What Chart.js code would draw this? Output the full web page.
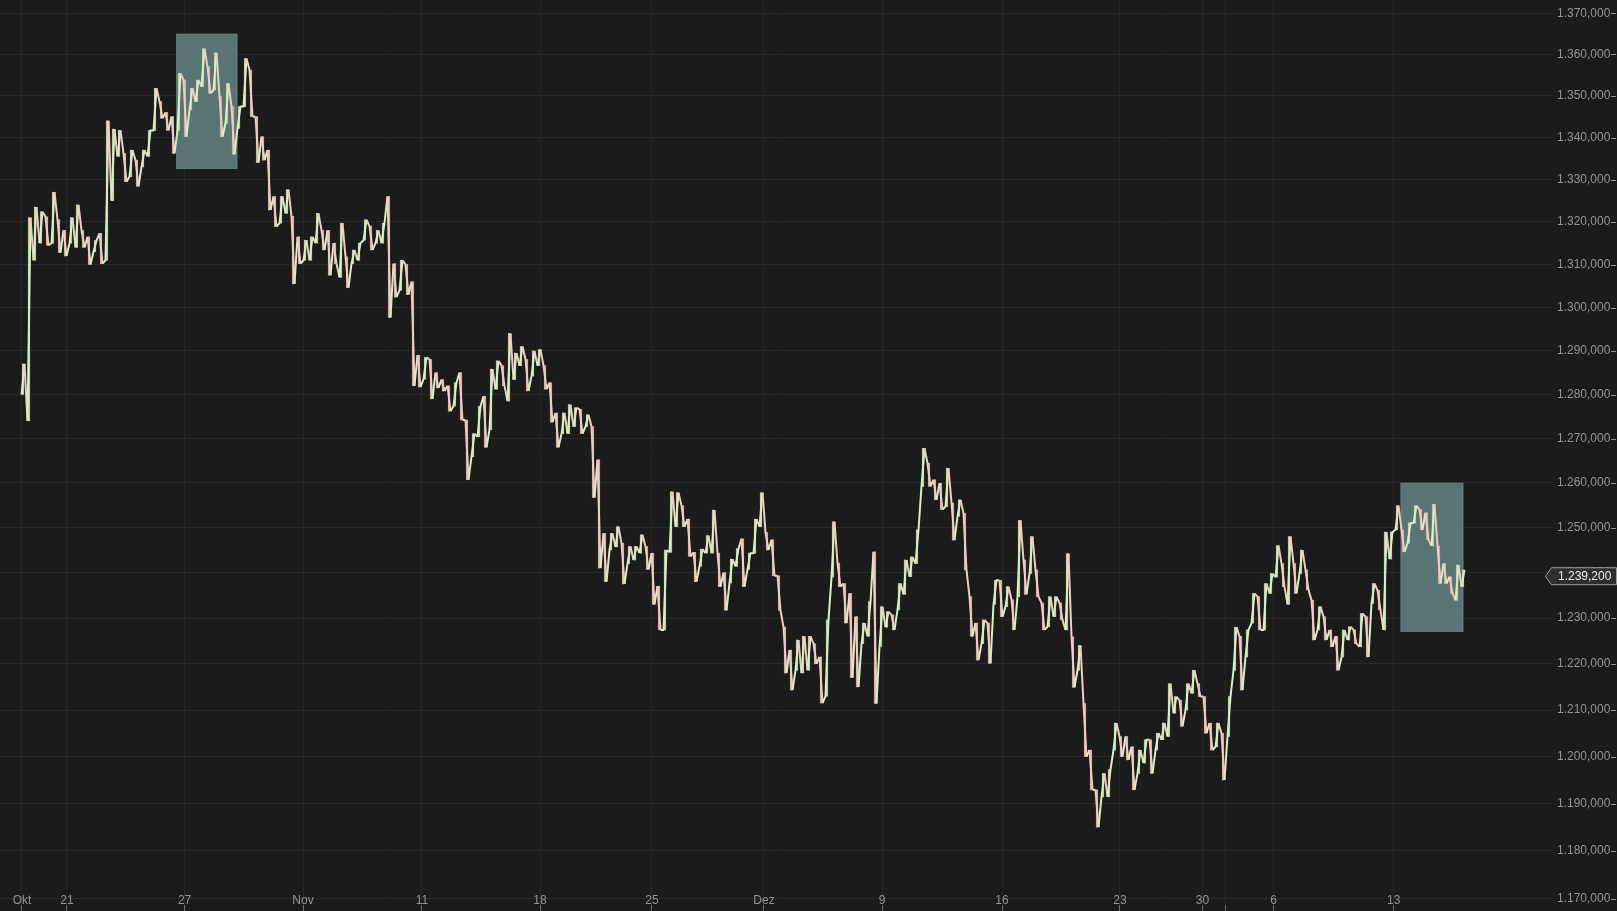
<!DOCTYPE html>
<html><head><meta charset="utf-8">
<script src="https://cdn.jsdelivr.net/npm/chart.js@4.4.1/dist/chart.umd.min.js"></script>
<style>html,body{margin:0;padding:0;background:#1c1b1b;overflow:hidden}#wrap{width:1617px;height:911px;position:relative}</style>
</head><body><div id="wrap"><canvas id="c"></canvas></div>
<script>
// Price ranges per time slot
const highs = [1287,1321,1323.5,1322.4,1321.2,1327,1320.5,1318,1321,1324,1318,1316.5,1315.6,1317.3,1344,1342,1341.7,1336.2,1337,1334.6,
1337,1341.7,1351.8,1348.6,1346,1345,1355.4,1353.8,1351.8,1353.8,1361.4,1357,1360.4,1349.8,1353,1347.4,1347.4,1359,1356.2,1345,
1340.2,1337,1326,1326,1327.6,1321.3,1316.5,1315.7,1316.5,1322,1318,1318,1315,1319.7,1311.8,1313.4,1315,1320.5,1319,1318,
1319.7,1326,1310.2,1311,1310,1306,1289,1288.5,1288,1285,1283.4,1282,1282.7,1285,1274.2,1271.1,1277.3,1279.6,1285.8,1287.7,
1286.6,1294,1289.5,1291,1288,1290,1290.3,1286.6,1282.7,1275.8,1275.8,1277.7,1277,1276.6,1275.4,1272.7,1265.2,1248.7,1248.7,1250.2,
1246.5,1245.8,1245.8,1248.4,1245.8,1244.3,1237,1245,1258,1257.8,1254.9,1251.9,1244.5,1245.2,1248.2,1253.9,1244.3,1240,1243,1245.3,
1247.5,1244.3,1251.9,1257.8,1248.9,1247.3,1239.3,1228,1223,1225.2,1226,1226,1224.4,1221.5,1229.6,1251.3,1242.1,1237.6,1235.4,1230.3,
1228.9,1233.6,1244.6,1232.5,1231.4,1230.7,1237.6,1242.8,1243.5,1249.5,1267.8,1264.4,1260.7,1259.9,1263.3,1255.5,1256.2,1253.2,1234.7,1228.9,
1229.6,1228.9,1238.3,1238.3,1236.9,1234,1251.6,1242.8,1248,1240.6,1233.3,1234.7,1234.7,1233.3,1244.2,1225.9,1224,1211.4,1201.4,1192.9,
1196.4,1197.2,1207.2,1204.3,1204.3,1202.1,1201.4,1203.6,1203.6,1205,1207.2,1215.7,1212.9,1212.1,1215.7,1218.6,1215.7,1212.9,1207.2,1207.2,
1205,1212.9,1228,1226,1227.4,1235.4,1234.7,1237.6,1239.8,1246,1242,1248,1242,1245,1240.6,1233.9,1232.5,1230.3,1227.4,1226,
1227.4,1228.1,1227.4,1231,1230.3,1237.6,1236.1,1249,1249,1254.9,1249.5,1251,1254.9,1254,1253.3,1255.2,1245.9,1242,1239.1,1241.7,
1240.6];
const lows = [1280,1274,1311,1315,1314.5,1315,1312.8,1312,1315,1314,1314,1310,1313,1310.2,1311,1325,1335.5,1329.5,1330.7,1328.4,
1333,1335.5,1341.7,1344.6,1341.7,1336.2,1341.7,1340.2,1346.6,1348.6,1352.2,1350.6,1351.4,1340.2,1343.4,1336,1342.2,1347.4,1345,1334,
1334.6,1322.8,1318.9,1319.7,1322,1305.5,1310.2,1311,1311,1315,1313.4,1307.5,1310.2,1307,1304.6,1310.2,1311,1315.7,1313.4,1315,
1315,1297.7,1302.4,1304,1303,1282,1281.7,1283.5,1279,1281.5,1280.8,1276.2,1277.4,1274.2,1260.7,1265.9,1270.4,1268,1272,1281.2,
1282,1278.5,1283.4,1286.6,1280.8,1284.2,1286.6,1281.2,1273.7,1268,1271.1,1271.1,1272.7,1271.1,1272.7,1256.7,1241,1238,1245,1245.7,
1237.5,1242,1242.8,1244.3,1240.7,1233,1227.4,1227.4,1244.5,1250.2,1250.2,1243.6,1238,1241.4,1244.3,1244.3,1236.9,1231.7,1237.7,1241.4,
1236.9,1240.7,1244.3,1250.2,1245,1239.3,1231.7,1218,1214.3,1218.6,1218,1218.6,1220,1211.5,1213,1239,1236.9,1228.9,1217,1215,
1224.4,1226,1211.4,1223.8,1228,1227.4,1231.8,1235.2,1239.1,1242,1259.2,1259.2,1256.2,1254,1254.7,1247.2,1252.5,1240.6,1226,1220.8,
1224.4,1220.1,1233,1230.3,1232.5,1227.4,1234.7,1235.2,1239.8,1234.7,1227.4,1228.1,1230.3,1229.6,1227.4,1214.9,1218.6,1200,1192.9,1185,
1191.4,1191.4,1201.4,1200,1199.3,1192.9,1196.4,1198.6,1196.4,1201.4,1203.6,1204.3,1209.3,1206.5,1210,1213.6,1212.9,1205,1201.4,1202.1,
1195,1204.3,1218.6,1214.3,1221.5,1228.9,1227.4,1227.4,1235.4,1239,1236.9,1233,1235.4,1239.8,1236.2,1225.2,1227.4,1225.2,1223.7,1218.6,
1221.5,1225.2,1224.4,1223.7,1221.5,1233.2,1231.8,1227.4,1243,1249.5,1244.6,1246.5,1251,1249.5,1247.3,1245.9,1237.6,1237.6,1235.4,1233.9,
1236.9];
const lastPrice = 1239.2;
const tickPos = [-0.17,7.33,26.93,46.67,66.5,86.17,104.83,123.5,143.17,163.17,182.83,196.57,200.37,208.43,228.45];
const tickLabels = ['Okt','21','27','Nov','11','18','25','Dez','9','16','23','30','','6','13'];
const yTicks = [1170,1180,1190,1200,1210,1220,1230,1240,1250,1260,1270,1280,1290,1300,1310,1320,1330,1340,1350,1360,1370];
const boxStart = [25.55, 229.6];
const boxEnd = [35.72, 240.05];
const boxHigh = [1365, 1260];
const boxLow = [1332.5, 1227];

const UP = '#d6efc3', DOWN = '#f1cbc4';
const mids = highs.map((h,i)=>(h+lows[i])/2);
const isUp = mids.map((m,i)=> i===0 ? true : m >= mids[i-1]);
const barData = highs.map((h,i)=>({x:i, y:[lows[i], h]}));
const lineData = [];
highs.forEach((h,i)=>{
  if (isUp[i]) { lineData.push({x:i-0.25, y:lows[i]}); lineData.push({x:i+0.25, y:h}); }
  else { lineData.push({x:i-0.25, y:h}); lineData.push({x:i+0.25, y:lows[i]}); }
});

// German number format: 1.370,000
const fmt = v => {
  const s = (Math.round(v*1000)/1000).toFixed(3);
  const [ip, dp] = s.split('.');
  return ip.replace(/\B(?=(\d{3})+(?!\d))/g, '.') + ',' + dp;
};
const FONT = {family:"'Liberation Sans', Arial, sans-serif", size:12};
const TXT = '#949494';

const deco = {
  id:'deco',
  beforeDatasetsDraw(chart){
    const {ctx, scales:{x,y}} = chart;
    ctx.save();
    for (let k=0;k<boxStart.length;k++){
      const x0=x.getPixelForValue(boxStart[k]), x1=x.getPixelForValue(boxEnd[k]);
      const y0=y.getPixelForValue(boxHigh[k]), y1=y.getPixelForValue(boxLow[k]);
      ctx.fillStyle='#587574';
      ctx.fillRect(x0,y0,x1-x0,y1-y0);
      ctx.strokeStyle='#627f7e'; ctx.lineWidth=1;
      ctx.strokeRect(x0+0.5,y0+0.5,x1-x0-1,y1-y0-1);
    }
    ctx.restore();
  },
  afterDraw(chart){
    const {ctx, scales:{y}, chartArea} = chart;
    ctx.save();
    ctx.strokeStyle=TXT; ctx.lineWidth=1;
    y.ticks.forEach(t=>{
      const py=Math.round(y.getPixelForValue(t.value))+0.5;
      ctx.beginPath(); ctx.moveTo(1611,py); ctx.lineTo(1616,py); ctx.stroke();
    });
    const py = y.getPixelForValue(lastPrice);
    const left = chartArea.right-8;
    ctx.beginPath();
    ctx.moveTo(left+0.5, py);
    ctx.lineTo(left+6.5, py-8.5);
    ctx.lineTo(1616.5, py-8.5);
    ctx.lineTo(1616.5, py+8.5);
    ctx.lineTo(left+6.5, py+8.5);
    ctx.closePath();
    ctx.fillStyle='#2e2e2e'; ctx.fill();
    ctx.strokeStyle='#a0a0a0'; ctx.stroke();
    ctx.fillStyle='#eeeeee';
    ctx.font="12px 'Liberation Sans', Arial, sans-serif";
    ctx.textBaseline='middle'; ctx.textAlign='left';
    ctx.fillText(fmt(lastPrice), left+13, py+0.5);
    ctx.restore();
  }
};

new Chart(document.getElementById('c'), {
  type:'bar',
  data:{datasets:[
    {type:'line', data:lineData, order:1, borderWidth:2, pointRadius:0, tension:0,
     borderColor:UP, borderJoinStyle:'round',
     segment:{borderColor: c => c.p1.parsed.y >= c.p0.parsed.y ? UP : DOWN}},
    {type:'bar', data:barData, order:2, barThickness:1.5, grouped:false,
     backgroundColor: barData.map((d,i)=> isUp[i] ? '#b7cca6' : '#cfaaa5')}
  ]},
  plugins:[deco],
  options:{
    responsive:true, maintainAspectRatio:false, animation:false, devicePixelRatio:1,
    layout:{padding:0},
    plugins:{legend:{display:false}, tooltip:{enabled:false}},
    scales:{
      x:{type:'linear', position:'bottom', min:-3.8333, max:255, offset:false, bounds:'ticks',
        afterBuildTicks: s => { s.ticks = tickPos.map(v=>({value:v})); },
        afterFit: s => { s.height = 6; s.paddingLeft = 0; s.paddingRight = 0; s._computeLabelArea = () => undefined; },
        grid:{color:'#272626', tickLength:6, tickColor:'#707070', drawTicks:true, offset:false},
        border:{display:false},
        ticks:{autoSkip:false, maxRotation:0, padding:-18, color:TXT, font:FONT,
          callback:(v,i)=>tickLabels[i]}
      },
      y:{type:'logarithmic', position:'right', min:1168.666, max:1373.252,
        afterBuildTicks: s => { s.ticks = yTicks.map(v=>({value:v})); },
        afterFit: s => { s.width = 64; s.paddingTop = 0; s.paddingBottom = 0; },
        grid:{color:'#2a2929', drawTicks:false},
        border:{display:false},
        ticks:{crossAlign:'near', padding:4, color:TXT, font:FONT, callback:v=>fmt(v)}
      }
    }
  }
});
</script></body></html>
